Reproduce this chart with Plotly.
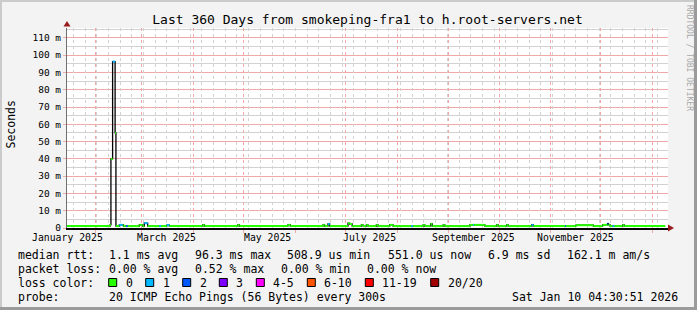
import plotly.graph_objects as go
import pandas as pd

# ---------------- data ----------------
TITLE = "Last 360 Days from smokeping-fra1 to h.root-servers.net"
range_start = "2025-01-15 04:30:51"
range_end = "2026-01-10 04:30:51"

step_times = [
    "2025-01-15 00:00", "2025-02-10 00:00", "2025-02-10 12:00", "2025-02-11 12:00",
    "2025-02-13 00:00", "2025-02-13 12:00", "2025-02-15 12:00", "2025-02-17 12:00",
    "2025-02-18 00:00", "2025-02-19 12:00", "2025-02-20 12:00", "2025-02-27 12:00",
    "2025-03-01 12:00", "2025-03-02 12:00", "2025-03-04 12:00", "2025-03-11 12:00",
    "2025-03-12 12:00", "2025-03-16 00:00", "2025-03-17 12:00", "2025-04-06 12:00",
    "2025-04-07 12:00", "2025-04-27 12:00", "2025-04-28 12:00", "2025-05-27 12:00",
    "2025-05-29 00:00", "2025-06-17 12:00", "2025-06-18 12:00", "2025-06-20 12:00",
    "2025-06-21 12:00", "2025-07-02 12:00", "2025-07-03 12:00", "2025-07-05 00:00",
    "2025-07-10 12:00", "2025-07-11 12:00", "2025-07-13 12:00", "2025-07-14 12:00",
    "2025-07-19 12:00", "2025-07-20 12:00", "2025-07-27 12:00", "2025-07-29 12:00",
    "2025-08-09 12:00", "2025-08-10 12:00", "2025-08-16 12:00", "2025-08-17 12:00",
    "2025-08-21 00:00", "2025-08-22 00:00", "2025-08-28 12:00", "2025-08-29 12:00",
    "2025-09-13 12:00", "2025-09-15 12:00", "2025-09-16 00:00", "2025-09-22 12:00",
    "2025-09-29 12:00", "2025-09-30 12:00", "2025-10-05 12:00", "2025-10-06 12:00",
    "2025-10-20 12:00", "2025-10-21 12:00", "2025-11-09 12:00", "2025-11-10 00:00",
    "2025-11-16 00:00", "2025-11-26 12:00", "2025-12-02 00:00", "2025-12-05 00:00",
    "2025-12-05 12:00", "2025-12-06 12:00", "2025-12-08 00:00", "2025-12-09 00:00",
    "2025-12-14 00:00", "2025-12-15 00:00", "2026-01-08 12:00",
]
step_rtt_ms = [
    1.1, 1.8, 40.0, 96.3, 55.0, 1.1, 1.8, 1.8, 1.1, 1.1, 1.1, 1.8,
    1.1, 2.8, 1.1, 1.1, 1.1, 1.7, 1.1, 1.8, 1.1, 1.8, 1.1, 1.8,
    1.1, 1.8, 1.1, 2.3, 1.1, 2.8, 2.3, 1.1, 1.8, 1.1, 1.8, 1.1,
    1.8, 1.1, 1.8, 1.1, 1.1, 1.1, 1.8, 1.1, 2.3, 1.1, 1.8, 1.1,
    1.8, 1.8, 1.8, 1.1, 1.8, 1.1, 1.8, 1.1, 1.8, 1.1, 1.1, 1.1,
    1.6, 1.1, 1.8, 2.5, 1.8, 1.1, 1.1, 1.1, 1.8, 1.1, 1.1,
]
step_loss_idx = [
    0, 0, 0, 1, 0, 0, 1, 0, 0, 2, 0, 0,
    0, 1, 0, 1, 0, 1, 0, 0, 0, 0, 0, 0,
    0, 0, 0, 1, 0, 0, 0, 0, 0, 0, 0, 0,
    0, 0, 0, 0, 1, 0, 0, 0, 0, 0, 0, 0,
    0, 1, 0, 0, 0, 0, 0, 0, 1, 0, 2, 0,
    0, 0, 0, 2, 0, 0, 1, 0, 0, 0, 0,
]

loss_labels = ["0", "1", "2", "3", "4-5", "6-10", "11-19", "20/20"]
loss_colors = ["#26ff00", "#00b8ff", "#0059ff", "#7e00ff",
               "#ff00ff", "#ff5500", "#ff0000", "#a10000"]

y_tick_ms = [0, 10, 20, 30, 40, 50, 60, 70, 80, 90, 100, 110]
y_tick_text = ["0", "10 m", "20 m", "30 m", "40 m", "50 m", "60 m",
               "70 m", "80 m", "90 m", "100 m", "110 m"]
month_grid = ["2025-02-01", "2025-03-01", "2025-04-01", "2025-05-01", "2025-06-01",
              "2025-07-01", "2025-08-01", "2025-09-01", "2025-10-01", "2025-11-01",
              "2025-12-01", "2026-01-01"]
week_grid_start = "2025-01-19"
month_label_dates = ["2025-01-15 12:00", "2025-03-15 12:00", "2025-05-15 12:00",
                     "2025-07-15 12:00", "2025-09-15 12:00", "2025-11-15 12:00"]
month_label_text = ["January 2025", "March 2025", "May 2025",
                    "July 2025", "September 2025", "November 2025"]

rtt_stats = ["1.1 ms avg", "96.3 ms max", "508.9 us min",
             "551.0 us now", "6.9 ms sd", "162.1 m am/s"]
loss_stats = ["0.00 % avg", "0.52 % max", "0.00 % min", "0.00 % now"]
probe_text = "20 ICMP Echo Pings (56 Bytes) every 300s"
timestamp_text = "Sat Jan 10 04:30:51 2026"

# ---------------- layout geometry ----------------
W, H = 697, 310
L, R, T, B = 67, 29, 28, 82
PW, PH = W - L - R, H - T - B
Y_TOP_MS = 115.7

def px(x):
    return (x - L) / PW

def py(y):
    return (H - B - y) / PH

MONO = "DejaVu Sans Mono"
RED_GRID = "#F0A8A8"
GRAY_GRID = "#D2D2D2"

times = pd.to_datetime(step_times)
vals_s = [v / 1000.0 for v in step_rtt_ms]

fig = go.Figure()

fig.add_trace(go.Scatter(
    x=times, y=vals_s, mode="lines", line=dict(color="#000000", width=1.3, shape="hv"),
    hoverinfo="skip", showlegend=False))

for ci, col in enumerate(loss_colors):
    xs, ys = [], []
    for i in range(len(times) - 1):
        if step_loss_idx[i] == ci:
            xs += [times[i], times[i + 1], None]
            ys += [vals_s[i], vals_s[i], None]
    if xs:
        fig.add_trace(go.Scatter(
            x=xs, y=ys, mode="lines", line=dict(color=col, width=2),
            hoverinfo="skip", showlegend=False, xaxis="x2", yaxis="y"))

fig.update_layout(
    width=W, height=H,
    margin=dict(l=L, r=R, t=T, b=B, pad=0),
    paper_bgcolor="#F3F3F3",
    plot_bgcolor="#FFFFFF",
    showlegend=False,
    title=dict(text=TITLE, x=0.5, xref="paper", xanchor="center",
               y=1 - 19 / H, yanchor="middle", yref="container",
               font=dict(family=MONO, size=13, color="#000000")),
    xaxis=dict(
        type="date", range=[range_start, range_end],
        tickmode="array", tickvals=month_grid, showticklabels=False,
        ticks="outside", ticklen=3, tickcolor=RED_GRID, tickwidth=1,
        showgrid=True, gridcolor=RED_GRID, griddash="dot", gridwidth=1,
        showline=True, linecolor="#000000", linewidth=1.5,
        zeroline=False, fixedrange=True,
    ),
    xaxis2=dict(
        type="date", range=[range_start, range_end], overlaying="x", anchor="y",
        side="bottom", tickmode="linear", tick0=week_grid_start, dtick=7 * 86400000,
        showticklabels=False, ticks="",
        showgrid=True, gridcolor=GRAY_GRID, griddash="dot", gridwidth=1,
        showline=False, zeroline=False, fixedrange=True,
    ),
    yaxis=dict(
        range=[0, Y_TOP_MS / 1000.0],
        tickmode="array", tickvals=[v / 1000.0 for v in y_tick_ms], ticktext=y_tick_text,
        tickfont=dict(family=MONO, size=9.5, color="#000000"),
        ticks="outside", ticklen=3, tickcolor=RED_GRID,
        showgrid=True, gridcolor=RED_GRID, griddash="solid", gridwidth=1,
        minor=dict(tickmode="linear", tick0=0.005, dtick=0.01, showgrid=True,
                   gridcolor=GRAY_GRID, griddash="solid"),
        showline=True, linecolor="#707070", linewidth=1,
        zeroline=False, fixedrange=True,
    ),
)

shapes = []
shapes.append(dict(type="rect", xref="paper", yref="paper", x0=px(0), x1=px(W), y0=py(2), y1=py(0),
                   fillcolor="#CBCBCB", line=dict(width=0), layer="above"))
shapes.append(dict(type="rect", xref="paper", yref="paper", x0=px(0), x1=px(2), y0=py(H), y1=py(0),
                   fillcolor="#CBCBCB", line=dict(width=0), layer="above"))
shapes.append(dict(type="rect", xref="paper", yref="paper", x0=px(0), x1=px(W), y0=py(H), y1=py(H - 3),
                   fillcolor="#9B9B9B", line=dict(width=0), layer="above"))
shapes.append(dict(type="rect", xref="paper", yref="paper", x0=px(W - 3), x1=px(W), y0=py(H), y1=py(0),
                   fillcolor="#9B9B9B", line=dict(width=0), layer="above"))
ARROW = "#9A1B1B"
shapes.append(dict(type="path", xref="paper", yref="paper",
                   path=f"M {px(63.5)} {py(26.5)} L {px(70.5)} {py(26.5)} L {px(67)} {py(21)} Z",
                   fillcolor=ARROW, line=dict(width=0), layer="above"))
shapes.append(dict(type="path", xref="paper", yref="paper",
                   path=f"M {px(668)} {py(224.5)} L {px(668)} {py(231.5)} L {px(674)} {py(228)} Z",
                   fillcolor=ARROW, line=dict(width=0), layer="above"))

annotations = []

def text_at(x, y, s, size=11.5, anchor="left", color="#000000", angle=0):
    annotations.append(dict(x=px(x), y=py(y), xref="paper", yref="paper", text=s,
                            showarrow=False, xanchor=anchor, yanchor="middle",
                            textangle=angle,
                            font=dict(family=MONO, size=size, color=color)))

for d, s in zip(month_label_dates, month_label_text):
    annotations.append(dict(x=d, xref="x", y=py(237), yref="paper", text=s,
                            showarrow=False, xanchor="center", yanchor="middle",
                            font=dict(family=MONO, size=9.8, color="#000000")))

ROW = [254.5, 268.5, 282.5, 296.5]
text_at(16, ROW[0], "median rtt:")
for xx, s in zip([107.3, 192.7, 285, 386, 486, 565], rtt_stats):
    text_at(xx, ROW[0], s)
text_at(16, ROW[1], "packet loss:")
for xx, s in zip([107.3, 193.3, 279.3, 365], loss_stats):
    text_at(xx, ROW[1], s)
text_at(16, ROW[2], "loss color:")
for bx, lab, col in zip([108.7, 145.7, 182.7, 219.3, 256.3, 307.3, 365.3, 430.7],
                        loss_labels, loss_colors):
    shapes.append(dict(type="rect", xref="paper", yref="paper",
                       x0=px(bx), x1=px(bx + 8), y0=py(286.5), y1=py(278.5),
                       fillcolor=col, line=dict(color="#000000", width=1), layer="above"))
    text_at(bx + 15, ROW[2], lab)
text_at(16, ROW[3], "probe:")
text_at(107.3, ROW[3], probe_text)
text_at(680, ROW[3], timestamp_text, anchor="right")

text_at(10.5, 125, "Seconds", size=11.5, anchor="center", angle=-90)
text_at(690, 58, "RRDTOOL / TOBI OETIKER", size=8, anchor="center", color="#A8A8A8", angle=90)

fig.update_layout(shapes=shapes, annotations=annotations)

fig.write_html("out.html")
